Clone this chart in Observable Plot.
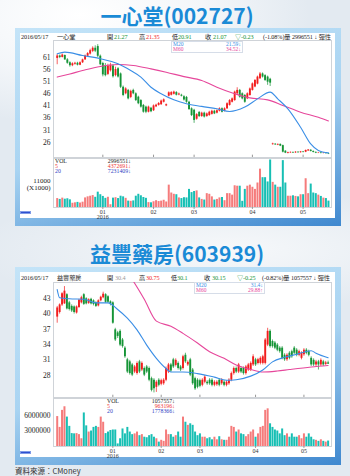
<!DOCTYPE html>
<html><head><meta charset="utf-8">
<script src="https://cdn.jsdelivr.net/npm/d3@7"></script>
<script src="https://cdn.jsdelivr.net/npm/@observablehq/plot@0.6"></script>
<style>
html,body{margin:0;padding:0;}
body{width:350px;height:476px;position:relative;overflow:hidden;
  background:radial-gradient(ellipse 230px 110px at 80px 15px,#ffffff 0%,#f3f6f9 55%,rgba(233,239,244,0) 100%),
             radial-gradient(ellipse 260px 60px at 230px 250px,#f6f8fa 0%,rgba(233,239,244,0) 100%),#e3eaf1;
  font-family:"Liberation Serif","Noto Sans CJK TC",serif;}
.title{position:absolute;left:0;width:354px;text-align:center;font-family:"Noto Sans CJK TC","Noto Sans",sans-serif;font-weight:700;font-size:21px;color:#1a8ad6;line-height:1;}
.panel{position:absolute;left:15px;width:326px;height:198px;background:linear-gradient(165deg,#c4e4f8 0%,#a9d4f2 50%,#3f88cf 100%);}
.inner{position:absolute;left:5px;top:5px;right:6px;bottom:8px;background:#fff;}
.t{position:absolute;white-space:nowrap;line-height:1;}
.wrap{position:absolute;}
.box{position:absolute;border:1px solid #d6dde8;background:#fff;}
</style></head>
<body>
<div class="title" style="top:5px">一心堂(002727)</div>
<div class="title" style="top:243px">益豐藥房(603939)</div>
<div class="panel" style="top:28px"><div class="inner"></div></div>
<div class="panel" style="top:267px"><div class="inner"></div></div>
<div class="t" style="left:15px;top:467px;font-family:'Noto Sans CJK TC',sans-serif;font-size:7.5px;color:#333">資料來源：CMoney</div>
<div id="root"></div>
<script>
// ---------- 一心堂 (002727) ----------
const open1  = [60.6,61.6,61.0,61.8,60.0,58.8,57.6,58.2,58.6,57.8,58.8,60.0,61.5,62.4,63.5,64.8,65.5,61.5,58.5,57.5,54.0,55.5,57.5,53.5,56.3,54.2,48.7,46.0,47.4,44.5,47.4,46.0,44.6,43.2,41.2,40.5,38.4,40.0,39.0,40.6,41.2,41.5,42.5,41.0,45.0,45.4,45.8,46.5,45.5,45.4,44.8,44.5,42.5,39.8,39.2,35.5,38.3,36.6,38.0,36.6,37.0,37.5,38.8,38.0,38.8,39.8,38.8,39.8,41.2,42.5,43.2,46.0,47.4,46.0,45.3,43.9,45.3,47.4,48.8,50.0,52.2,54.2,53.5,52.9,52.0,25.0,25.2,24.8,25.1,24.6,22.3,21.4,21.6,21.8,21.6,21.9,21.7,22.0,21.9,22.4,22.7,22.2,21.8,21.5,21.6,21.4,21.6,21.27];
const close1 = [61.6,61.0,62.0,60.0,58.6,57.6,58.4,58.6,57.8,58.8,60.0,61.6,62.6,63.8,64.8,63.6,61.5,58.0,53.8,53.5,57.5,57.8,53.0,56.0,52.9,48.7,45.3,48.0,43.9,47.0,46.0,43.2,41.9,40.5,38.4,38.4,40.5,38.6,41.0,41.3,42.0,43.0,43.5,41.5,46.4,46.5,46.7,45.4,45.9,45.0,43.4,42.5,39.5,37.0,35.0,37.4,36.6,38.0,36.4,37.7,38.4,38.8,37.7,39.0,39.8,38.4,39.8,41.9,43.2,43.9,46.7,47.4,44.6,43.9,42.5,46.0,48.0,50.1,51.5,52.9,54.2,52.9,51.5,50.8,50.4,25.3,24.9,25.1,24.4,21.9,21.5,21.7,21.8,21.6,21.9,21.7,22.0,21.8,22.6,22.8,22.2,21.8,21.5,21.6,21.4,21.5,21.3,21.07];
const high1  = [62.2,62.0,62.4,62.0,60.5,59.2,58.8,59.0,59.0,59.2,60.3,62.0,63.0,64.4,65.4,65.8,66.3,62.0,59.0,58.5,58.2,58.6,58.0,57.0,56.8,54.6,49.2,48.5,47.8,47.5,47.9,46.4,45.0,43.6,41.6,40.9,40.9,40.4,41.4,41.7,42.4,43.4,43.9,41.8,46.8,46.9,47.1,46.9,46.3,45.8,45.2,44.9,42.9,40.2,39.6,37.8,38.7,38.4,38.4,38.1,38.8,39.2,39.2,39.4,40.2,40.2,40.2,42.3,43.6,44.3,47.1,48.5,47.8,46.4,45.7,46.4,48.4,50.5,51.9,53.3,54.8,54.6,53.9,53.3,52.4,25.6,25.4,25.3,25.3,24.8,22.5,21.9,22.0,22.0,22.1,22.1,22.2,22.2,22.8,23.0,22.9,22.4,22.0,21.8,21.8,21.7,21.7,21.35];
const low1   = [58.0,60.5,60.8,59.8,58.2,57.0,57.2,57.8,57.5,57.6,58.5,59.8,61.2,62.0,63.0,63.0,61.0,57.6,53.0,53.0,53.5,55.0,52.5,53.0,52.5,48.2,44.8,45.6,43.5,44.0,45.6,42.8,41.5,40.1,38.0,37.8,38.1,38.2,38.7,40.3,40.9,41.2,42.2,40.7,44.7,45.1,45.5,45.1,45.2,44.7,43.0,42.1,39.1,36.6,33.8,35.1,36.2,36.3,36.0,36.3,36.7,37.2,37.4,37.7,38.5,38.1,38.5,39.5,40.9,42.2,42.9,45.7,44.2,43.5,42.1,43.6,45.0,47.1,48.5,49.7,51.9,52.5,51.1,49.5,49.0,24.8,24.7,24.6,24.2,21.6,21.3,21.2,21.4,21.4,21.4,21.5,21.5,21.6,21.7,22.2,22.0,21.6,21.3,21.3,21.2,21.2,21.1,20.91];
const vol1   = [4200,3800,4400,3900,4100,3600,2000,2200,2400,2100,2500,4500,5000,5300,5600,4800,7200,6000,5200,4300,4800,1300,4400,4600,4200,5300,5000,4300,3000,2900,3100,5300,6200,5500,4700,4300,2300,2200,2700,3200,2800,3000,3400,2600,10500,6800,6200,6000,4500,4200,4600,4500,8500,7000,7500,7800,4500,3800,3500,6500,6200,5000,3500,3800,4500,4700,3200,6500,6500,5800,10200,10000,10000,2900,8500,10000,10500,9500,8500,11500,18000,14000,14000,12000,22300,11800,10500,9500,9500,22000,11500,5300,5300,5500,5200,5000,6000,6000,13500,6500,11000,6800,6500,5800,5200,4400,4200,2997]; // x1000
const ma20Idx1 = [0,3,10,17,24,29,33,37,41,46,51,57,63,68,74,79,84,87,91,96,100,103,107];
const ma20Val1 = [62.5,63.2,61.8,60.5,58.4,55.6,52.9,48.7,46.0,43.5,41.9,40.8,39.8,38.7,40.5,43.9,46.7,43.9,39.8,32.2,25.3,22.6,21.6];
const ma60Idx1 = [0,5,10,17,24,30,37,43,50,57,63,70,76,83,89,96,103,107];
const ma60Val1 = [52.9,54.2,55.6,57.3,58.1,57.7,56.3,54.9,53.1,51.5,48.7,46.0,44.3,43.5,41.2,38.4,36.3,34.8];
const priceTicks1 = [61,56,51,46,41,36,31,26];
const volTickLbl1 = ["11000","(X1000)"];
const monthIdx1 = [18,38,54,77,97];
const monthLbl = ["01","02","03","04","05"];

// ---------- 益豐藥房 (603939) ----------
const open2  = [39.4,40.3,41.8,42.0,43.8,42.2,41.5,41.4,40.2,41.3,42.2,43.8,43.0,42.1,42.9,42.6,42.2,41.6,42.6,43.2,43.8,43.4,42.4,42.2,36.9,36.3,36.6,34.9,33.3,31.0,30.6,30.0,28.6,28.3,30.6,29.0,29.3,29.6,29.3,27.3,27.0,25.6,27.0,26.2,26.3,27.0,28.6,30.0,31.0,29.9,30.3,29.6,29.3,31.9,30.0,31.0,29.0,27.3,27.0,26.9,26.0,26.6,26.6,27.0,27.0,26.0,26.1,27.0,26.3,26.6,26.0,26.3,27.0,28.3,29.3,28.6,29.3,29.3,28.3,29.0,29.0,30.0,31.0,30.3,30.3,30.3,30.3,33.9,36.6,34.6,34.3,33.9,33.3,33.3,31.9,31.0,32.3,32.6,33.3,32.9,31.9,31.3,32.0,32.9,32.6,31.3,30.9,30.0,30.6,30.0,30.6,30.1,30.4];
const close2 = [41.2,41.8,44.0,44.5,41.0,40.9,40.6,40.3,41.4,42.7,43.2,41.9,42.0,42.8,42.0,41.9,41.5,42.6,43.3,43.9,42.3,42.3,42.0,38.2,34.9,35.6,33.9,33.6,31.6,28.6,28.3,28.0,29.6,30.3,28.6,30.3,28.0,28.6,27.0,25.0,25.3,26.6,26.0,26.9,27.0,29.3,30.0,28.8,29.6,30.9,29.3,29.0,31.6,30.6,30.5,28.0,26.3,25.3,25.6,25.8,27.0,27.6,26.3,26.3,26.0,26.6,26.6,26.0,27.0,26.0,26.6,27.0,28.3,29.3,28.6,30.0,28.6,28.3,29.6,30.0,30.3,31.6,30.0,31.0,31.3,31.6,34.9,36.6,33.6,33.6,33.3,32.9,32.6,31.3,31.0,31.9,31.3,31.6,32.3,31.9,32.6,32.3,32.9,32.3,31.9,30.0,30.0,30.6,30.0,30.9,30.0,30.4,30.15];
const high2  = [41.5,42.0,44.2,45.4,44.0,42.5,41.8,41.6,41.6,42.9,43.5,44.0,43.2,43.0,43.1,42.8,42.4,42.8,43.5,44.3,44.0,43.6,42.6,42.4,37.2,36.6,36.9,35.2,33.6,31.3,30.9,30.3,29.9,30.6,30.9,30.6,29.6,29.9,29.6,27.6,27.3,26.9,27.3,27.2,27.3,29.6,30.3,30.3,31.3,31.2,30.6,29.9,31.9,32.3,30.8,31.3,29.3,27.6,27.3,27.2,27.3,27.9,26.9,27.3,27.3,26.9,26.9,27.3,27.3,26.9,26.9,27.3,28.6,29.6,29.6,30.3,29.6,29.6,29.9,30.3,30.6,32.0,31.3,31.3,31.6,31.9,35.2,37.2,36.9,34.9,34.6,34.2,33.6,33.6,32.2,32.2,32.6,32.9,33.6,33.2,32.9,32.6,33.2,33.2,32.9,31.6,31.2,30.9,30.9,31.2,30.9,30.7,30.75];
const low2   = [38.2,40.0,41.5,41.9,40.8,40.6,40.3,40.0,40.0,41.1,42.0,41.7,41.8,41.9,41.8,41.6,41.3,41.4,42.4,43.0,42.1,42.1,41.6,38.0,34.6,35.2,33.6,33.3,31.3,28.3,28.0,27.7,28.3,28.0,28.3,28.7,27.7,28.3,26.7,24.7,24.5,24.6,25.7,25.9,26.0,26.7,28.3,28.5,29.3,29.6,29.0,28.7,29.0,30.3,29.7,27.7,26.0,25.0,25.3,25.5,25.7,26.3,26.0,26.0,25.7,25.7,25.8,25.7,26.0,25.7,25.7,26.0,26.7,28.0,28.3,28.3,28.3,28.0,28.0,28.7,28.7,29.7,29.7,30.0,30.0,30.0,30.0,33.6,33.3,33.3,33.0,32.6,32.3,31.0,30.7,30.7,31.0,31.3,32.0,31.6,31.6,31.0,31.7,32.0,31.6,29.7,29.7,29.7,29.0,29.7,29.7,29.9,30.1];
const vol2   = [5800000,3700000,7000000,7700000,5700000,3900000,2500000,2450000,2500000,2300000,1500000,6500000,4000000,2800000,3000000,3700000,3900000,3700000,5700000,4700000,2500000,2800000,3100000,3200000,3200000,500000,1500000,3400000,2450000,3700000,2800000,2300000,2450000,2800000,2100000,2300000,1800000,1700000,2100000,2300000,1800000,1500000,850000,1200000,1000000,3200000,2300000,2300000,1800000,2100000,2800000,1800000,5700000,4700000,4100000,4400000,4100000,2800000,2100000,2450000,1800000,1800000,1500000,1700000,1300000,1800000,1300000,1900000,1300000,1200000,1200000,1800000,3900000,3700000,2800000,3200000,2450000,2300000,1900000,2300000,2800000,3200000,1800000,2450000,3700000,3900000,7000000,7300000,4400000,3700000,3200000,3000000,2450000,3400000,2100000,2450000,1800000,2450000,1800000,1800000,2100000,1500000,2450000,1800000,2450000,1800000,1300000,1200000,1000000,1300000,1000000,850000,1057557];
const ma20Idx2 = [0,1,5,11,16,21,25,29,33,37,41,45,47,52,58,65,70,74,80,85,89,94,99,105,107,112];
const ma20Val2 = [44.8,43.2,43.0,42.9,42.2,42.2,40.9,39.2,36.9,33.9,31.3,29.3,28.6,28.6,28.3,27.6,27.0,27.1,27.8,29.0,30.6,31.5,32.1,32.8,32.3,31.4];
const ma60Idx2 = [29,31,36,41,47,52,58,63,69,74,80,85,91,96,105,112];
const ma60Val2 = [48.2,46.8,42.9,38.6,37.6,36.2,34.3,32.6,31.3,30.0,29.1,28.6,28.8,29.1,29.6,29.9];
const priceTicks2 = [43,40,37,34,31,28];
const monthIdx2 = [23,43,59,82,102];

// ---------- drawing ----------
const RED="#f21d1d", GRN="#159436", VRED="#f57b7b", VTEAL="#17bfb4", C20="#3a8ee6", C60="#e6479b";
const root = document.getElementById("root");
function place(node, left, top){ const d=document.createElement("div"); d.className="wrap"; d.style.left=left+"px"; d.style.top=top+"px"; d.appendChild(node); root.appendChild(d); }
function txt(left, top, s, color, size, extra){ const d=document.createElement("div"); d.className="t"; d.style.left=left+"px"; d.style.top=top+"px"; d.style.color=color||"#222"; d.style.fontSize=(size||6.5)+"px"; if(extra) Object.assign(d.style, extra); d.textContent=s; root.appendChild(d); return d; }
function rtxt(right, top, s, color, size){ return txt(0, top, s, color, size, {left:"auto", right:(350-right)+"px"}); }

function build(O,C,H,L,V){ return O.map((o,i)=>({i,o,c:C[i],h:H[i],l:L[i],v:V[i],col:C[i]>=o?RED:GRN,vcol:C[i]>=o?VRED:VTEAL})); }
const pts=(I,Vv)=>I.map((i,k)=>({i,v:Vv[k]}));
const base = {background:"transparent", fontFamily:"Liberation Serif, serif", fontSize:"7.5px", color:"#222", overflow:"visible"};

function pricePlot(data, xdom, ydom, ticks, m20, m60, h, months){
  return Plot.plot({
    width:315, height:h, marginLeft:33, marginRight:4, marginTop:0, marginBottom:0,
    style:base,
    x:{domain:xdom, axis:null},
    y:{domain:ydom, ticks:ticks, tickSize:0, tickPadding:3, label:null, tickFormat:d=>String(d)},
    color:{type:"identity"},
    marks:[
      Plot.frame({stroke:"#cfd3d8"}),
      Plot.ruleX(months,{x:d=>d, y1:ydom[0], y2:ydom[0]+(ydom[1]-ydom[0])*0.02, stroke:"#999"}),
      Plot.ruleX(data,{x:"i",y1:"l",y2:"h",stroke:"col",strokeWidth:0.7}),
      Plot.ruleX(data,{x:"i",y1:"o",y2:"c",stroke:"col",strokeWidth:1.9}),
      Plot.line(m60,{x:"i",y:"v",stroke:C60,strokeWidth:1.1,curve:"monotone-x",clip:true}),
      Plot.line(m20,{x:"i",y:"v",stroke:C20,strokeWidth:1.1,curve:"monotone-x",clip:true})
    ]
  });
}
function volPlot(data, xdom, vmax, ticks, h, months, tickLabels){
  const mdata = months.map((i,k)=>({i, label:monthLbl[k]}));
  const extra = tickLabels ? [
      Plot.text(ticks,{y:d=>d, frameAnchor:"left", dx:-3, dy:-3, textAnchor:"end", text:()=>tickLabels[0], fontSize:7, fill:"#222"}),
      Plot.text(ticks,{y:d=>d, frameAnchor:"left", dx:-3, dy:4, textAnchor:"end", text:()=>tickLabels[1], fontSize:7, fill:"#222"})
    ] : [];
  return Plot.plot({
    width:315, height:h, marginLeft:33, marginRight:4, marginTop:1, marginBottom:12,
    style:base,
    x:{domain:xdom, axis:null},
    y:{domain:[0,vmax], ticks:ticks, tickSize:0, tickPadding:3, label:null, tickFormat:d=>tickLabels?"":String(d)},
    color:{type:"identity"},
    marks:[
      Plot.frame({stroke:"#cfd3d8"}),
      Plot.ruleX(data,{x:"i",y:"v",stroke:"vcol",strokeWidth:2}),
      Plot.ruleX(months,{x:d=>d, y1:0, y2:-vmax*0.04, stroke:"#999", clip:false}),
      Plot.text(mdata,{x:"i", frameAnchor:"bottom", dy:6, text:"label", fontSize:6, fill:"#333"}),
      Plot.text(mdata.slice(0,1),{x:"i", frameAnchor:"bottom", dy:11, text:()=>"2016", fontSize:6, fill:"#333"}),
      ...extra
    ]
  });
}

// chart 1
const d1 = build(open1,close1,high1,low1,vol1);
const xdom1 = [-1.46,108.2];
place(pricePlot(d1, xdom1, [19.7,68.0], priceTicks1, pts(ma20Idx1,ma20Val1), pts(ma60Idx1,ma60Val1), 117, monthIdx1), 20, 40);
place(volPlot(d1, xdom1, 23000, [11000], 62, monthIdx1, volTickLbl1), 20, 157);

// chart 2
const d2 = build(open2,close2,high2,low2,vol2);
const xdom2 = [-1.53,113.4];
place(pricePlot(d2, xdom2, [23.6,46.2], priceTicks2, pts(ma20Idx2,ma20Val2), pts(ma60Idx2,ma60Val2), 115, monthIdx2), 20, 282);
place(volPlot(d2, xdom2, 9300000, [3000000,6000000], 61, monthIdx2, null), 20, 397);

// header rows
function header(y, items){ items.forEach(([x,s,c])=>txt(x, y-3.2, s, c||"#222", 6.2, {letterSpacing:"-0.1px"})); }
header(37,[[21,"2016/05/17"],[57,"一心堂"],[107,"開"],[114,"21.27",GRN],[139,"高"],[146,"21.35",RED],[172,"低"],[178,"20.91",GRN],[205,"收"],[213,"21.07",GRN],[235,"▽-0.23",GRN],[263,"(-1.08%)量 2996551 ↓ 彈性"]]);
header(278,[[21,"2016/05/17"],[57,"益豐藥房"],[107,"開"],[115,"30.4","#9a9a9a"],[139,"高"],[146,"30.75",RED],[171,"低"],[177,"30.1",GRN],[204,"收"],[212,"30.15",GRN],[237,"▽-0.25",GRN],[262,"(-0.82%)量 1057557 ↓ 彈性"]]);

// MA legend boxes
function maBox(x, y, w, v20, v60){
  const b=document.createElement("div"); b.className="box"; b.style.left=x+"px"; b.style.top=y+"px"; b.style.width=w+"px"; b.style.height="10px"; root.appendChild(b);
  txt(x+2, y+1, "M20", C20, 5.5); rtxt(x+w, y+1, v20, C20, 5.5);
  txt(x+2, y+6, "M60", C60, 5.5); rtxt(x+w, y+6, v60, C60, 5.5);
}
maBox(171, 41, 70, "21.59↓", "34.52↓");
maBox(194, 282, 69, "31.4↓", "29.88↑");

// volume legends
function volLegend(x, y, right, v, v5, v20){
  txt(x, y-2.8, "VOL", "#222", 5.8); rtxt(right, y-2.8, v, "#222", 5.8);
  txt(x, y+2.2, "5", "#e33", 5.8); rtxt(right, y+2.2, v5, "#e33", 5.8);
  txt(x, y+7.2, "20", "#2f3fc4", 5.8); rtxt(right, y+7.2, v20, "#2f3fc4", 5.8);
}
volLegend(55, 162, 131, "2996551↓", "4372691↓", "7231409↓");
volLegend(107, 402, 175, "1057557↓", "963196↓", "1778366↓");

// small blue markers
[211,451].forEach(t=>{ const d=document.createElement("div"); d.style.cssText=`position:absolute;left:20px;top:${t}px;width:11px;height:3px;background:#2d4fd1;border:0.5px solid #7f9ae6;box-sizing:border-box`; root.appendChild(d); });
</script>
</body></html>
